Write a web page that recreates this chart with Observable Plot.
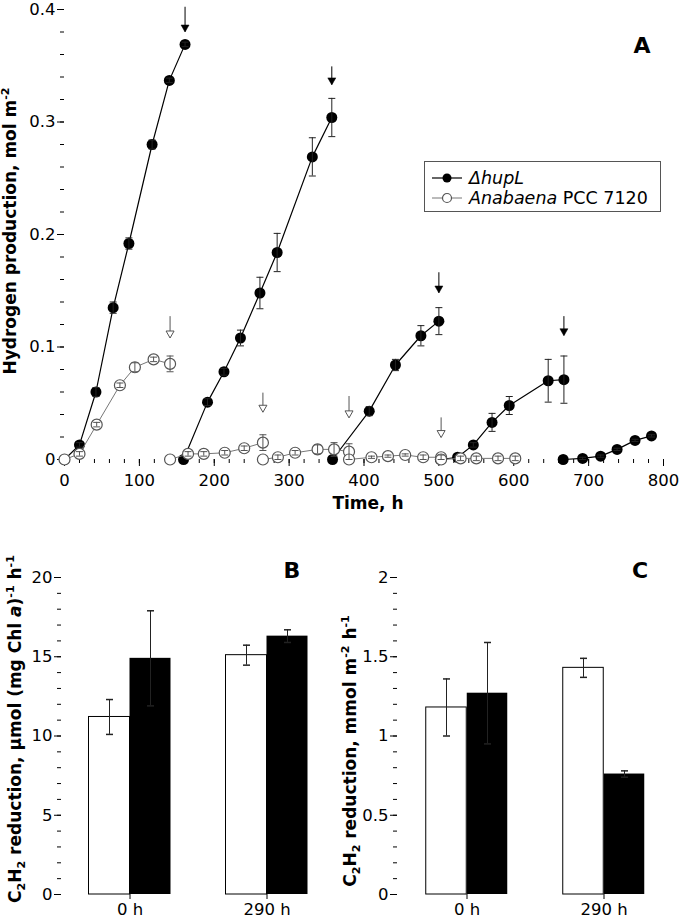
<!DOCTYPE html>
<html><head><meta charset="utf-8">
<script src="https://cdn.jsdelivr.net/npm/d3@7"></script>
<script src="https://cdn.jsdelivr.net/npm/@observablehq/plot@0.6"></script>
<style>
body{margin:0;background:#fff;}
#wrap{position:relative;width:680px;height:920px;font-family:"DejaVu Sans",sans-serif;color:#000;overflow:hidden;background:#fff}
.pl{position:absolute}
.lab{position:absolute;font-weight:bold;font-size:17px;white-space:nowrap;line-height:1}
.rot{transform:translate(-50%,-50%) rotate(-90deg)}
.lab sub,.lab sup{font-size:65%;line-height:0}
.letter{position:absolute;font-weight:bold;font-size:22px;line-height:1;transform:translateX(-50%)}
#legend{position:absolute;left:424px;top:161px;width:237px;height:51px;border:1px solid #555;box-sizing:border-box;font-size:17.5px}
#legend .row{position:absolute;left:7px;height:20px;display:flex;align-items:center;white-space:nowrap}
#legend svg{margin-right:7px}
</style></head>
<body><div id="wrap"></div>
<script>
// ---------- Panel A data: hydrogen production (mol m^-2) ----------
const hupTime  = [0,20,42,65,86,117,140,161, 159,191,213,235,261,284,331,357, 358,407,442,476,500, 502,525,546,571,594,646,667, 666,692,716,738,762,784];
const hupH2    = [0,0.013,0.060,0.135,0.192,0.280,0.337,0.369, 0,0.051,0.078,0.108,0.148,0.184,0.269,0.304, 0,0.043,0.084,0.110,0.123, 0,0.002,0.013,0.033,0.048,0.070,0.071, 0,0.001,0.003,0.009,0.017,0.021];
const hupErr   = [0,0.002,0.004,0.005,0.005,0.004,0.002,0.002, 0,0.003,0.003,0.007,0.014,0.017,0.017,0.017, 0,0.004,0.005,0.009,0.012, 0,0.001,0.002,0.008,0.008,0.019,0.021, 0,0.001,0.001,0.001,0.001,0.001];
const hupCycle = [1,1,1,1,1,1,1,1, 2,2,2,2,2,2,2,2, 3,3,3,3,3, 4,4,4,4,4,4,4, 5,5,5,5,5,5];

const wtTime  = [0,20,43,74,94,119,141, 141,165,186,214,240,265, 265,285,308,338,360,380, 380,410,432,455,479,503, 503,529,550,579,602];
const wtH2    = [0,0.005,0.031,0.066,0.082,0.089,0.085, 0,0.005,0.005,0.006,0.010,0.015, 0,0.002,0.006,0.009,0.009,0.007, 0,0.002,0.003,0.004,0.002,0.002, 0,0.001,0.001,0.001,0.001];
const wtErr   = [0,0.002,0.002,0.002,0.004,0.002,0.007, 0,0.002,0.002,0.002,0.002,0.007, 0,0.002,0.002,0.004,0.006,0.007, 0,0.001,0.001,0.001,0.002,0.002, 0,0.002,0.002,0.002,0.002];
const wtCycle = [1,1,1,1,1,1,1, 2,2,2,2,2,2, 3,3,3,3,3,3, 4,4,4,4,4,4, 5,5,5,5,5];

// medium-exchange arrows (tip and tail values, mol m^-2)
const hupArrowTime = [161,357,500,667];
const hupArrowTip  = [0.380,0.333,0.148,0.110];
const hupArrowTail = [0.402,0.349,0.166,0.127];
const wtArrowTime  = [141,265,380,503];
const wtArrowTip   = [0.108,0.042,0.037,0.0195];
const wtArrowTail  = [0.127,0.059,0.056,0.037];

const xTicksA = [0,100,200,300,400,500,600,700,800];
const yTicksA = [0,0.1,0.2,0.3,0.4];

// ---------- Panels B and C data ----------
const groups = ["0 h","290 h"];
const chlWT = [11.2, 15.1],  chlWTErr = [1.1, 0.63];
const chlHup = [14.9, 16.3], chlHupErr = [3.0, 0.4];
const areaWT = [1.18, 1.43], areaWTErr = [0.18, 0.06];
const areaHup = [1.27, 0.76], areaHupErr = [0.32, 0.02];
const yTicksB = [0,5,10,15,20];
const yTicksC = [0,0.5,1,1.5,2];

// ---------- helpers ----------
const fmt = d3.format("~g");
const capSymbol = {draw(ctx){ctx.moveTo(-3.5,0);ctx.lineTo(3.5,0);}};
const headSymbol = {draw(ctx){ctx.moveTo(0,0);ctx.lineTo(-4,-7);ctx.lineTo(4,-7);ctx.closePath();}};
const baseStyle = {fontFamily:"DejaVu Sans", fontSize:"16.5px", color:"#000", background:"transparent", overflow:"visible"};

const hup = hupTime.map((t,i)=>({t, h:hupH2[i], e:hupErr[i], c:hupCycle[i]}));
const wt = wtTime.map((t,i)=>({t, h:wtH2[i], e:wtErr[i], c:wtCycle[i]}));
const capsOf = arr => arr.filter(d=>d.e>0).flatMap(d=>[{t:d.t, y:d.h-d.e},{t:d.t, y:d.h+d.e}]);
const hupArrows = hupArrowTime.map((t,i)=>({t, tip:hupArrowTip[i], tail:hupArrowTail[i]}));
const wtArrows = wtArrowTime.map((t,i)=>({t, tip:wtArrowTip[i], tail:wtArrowTail[i]}));

const wrap = document.getElementById("wrap");
function place(node, left, top){ node.classList.add("pl"); node.style.left = left+"px"; node.style.top = top+"px"; wrap.appendChild(node); }

// ---------- Panel A ----------
const plotA = Plot.plot({
  width:680, height:500, marginLeft:64, marginRight:17, marginTop:9, marginBottom:41,
  style: baseStyle,
  x:{domain:[0,800]}, y:{domain:[0,0.4]},
  marks:[
    Plot.axisX({ticks:d3.range(0,801,20), tickSize:4, tickFormat:()=>"", label:null}),
    Plot.axisX({ticks:xTicksA, tickSize:7, tickPadding:8, tickFormat:fmt, label:null, line:true}),
    Plot.axisY({ticks:d3.range(0,21).map(k=>k*0.02), tickSize:4, tickFormat:()=>"", label:null}),
    Plot.axisY({ticks:yTicksA, tickSize:7, tickPadding:2, tickFormat:fmt, label:null, line:true}),
    // arrows
    Plot.ruleX(hupArrows, {x:"t", y1:"tip", y2:"tail", stroke:"#000", strokeWidth:1}),
    Plot.dot(hupArrows, {x:"t", y:"tip", symbol:headSymbol, fill:"#000", stroke:"#000", strokeWidth:0.5}),
    Plot.ruleX(wtArrows, {x:"t", y1:"tip", y2:"tail", stroke:"#555", strokeWidth:1}),
    Plot.dot(wtArrows, {x:"t", y:"tip", symbol:headSymbol, fill:"#fff", stroke:"#555", strokeWidth:1}),
    // ΔhupL
    Plot.line(hup, {x:"t", y:"h", z:"c", stroke:"#000", strokeWidth:1.2}),
    Plot.dot(hup, {x:"t", y:"h", r:5.5, fill:"#000"}),
    Plot.ruleX(hup.filter(d=>d.e>0), {x:"t", y1:d=>d.h-d.e, y2:d=>d.h+d.e, stroke:"#222", strokeWidth:1}),
    Plot.dot(capsOf(hup), {x:"t", y:"y", symbol:capSymbol, stroke:"#222", strokeWidth:1}),
    // Anabaena PCC 7120
    Plot.line(wt, {x:"t", y:"h", z:"c", stroke:"#777", strokeWidth:1}),
    Plot.dot(wt, {x:"t", y:"h", r:5.5, fill:"#fff", stroke:"#555", strokeWidth:1.2}),
    Plot.ruleX(wt.filter(d=>d.e>0), {x:"t", y1:d=>d.h-d.e, y2:d=>d.h+d.e, stroke:"#555", strokeWidth:1}),
    Plot.dot(capsOf(wt), {x:"t", y:"y", symbol:capSymbol, stroke:"#555", strokeWidth:1})
  ]
});
place(plotA, 0, 0);

// ---------- bar panels ----------
function barPanel(wtVals, wtE, hupVals, hupE, yTicks, minorStep, yMax, ml, mr){
  const W = 340, H = 420, mt = 77, mb = 26;
  const bw = (W - ml - mr) / groups.length, barW = 41;
  const wtD = groups.map((g,i)=>({g, v:wtVals[i], e:wtE[i]}));
  const hupD = groups.map((g,i)=>({g, v:hupVals[i], e:hupE[i]}));
  const caps = (arr) => arr.flatMap(d=>[{g:d.g, y:d.v-d.e},{g:d.g, y:d.v+d.e}]);
  const minor = d3.range(0, Math.round(yMax/minorStep)+1).map(k=>k*minorStep);
  return Plot.plot({
    width:W, height:H, marginLeft:ml, marginRight:mr, marginTop:mt, marginBottom:mb,
    style: baseStyle,
    x:{domain:groups, paddingInner:0, paddingOuter:0},
    y:{domain:[0,yMax]},
    marks:[
      Plot.axisY({ticks:minor, tickSize:4, tickFormat:()=>"", label:null}),
      Plot.axisY({ticks:yTicks, tickSize:7, tickPadding:2, tickFormat:fmt, label:null, line:true}),
      Plot.barY(wtD, {x:"g", y:"v", fill:"#fff", stroke:"#000", strokeWidth:1, insetLeft:bw/2-barW, insetRight:bw/2}),
      Plot.ruleX(wtD, {x:"g", y1:d=>d.v-d.e, y2:d=>d.v+d.e, dx:-barW/2, stroke:"#222"}),
      Plot.dot(caps(wtD), {x:"g", y:"y", dx:-barW/2, symbol:capSymbol, stroke:"#222"}),
      Plot.barY(hupD, {x:"g", y:"v", fill:"#000", insetLeft:bw/2, insetRight:bw/2-barW}),
      Plot.ruleX(hupD, {x:"g", y1:d=>d.v-d.e, y2:d=>d.v+d.e, dx:barW/2, stroke:"#222"}),
      Plot.dot(caps(hupD), {x:"g", y:"y", dx:barW/2, symbol:capSymbol, stroke:"#222"}),
      Plot.axisX({tickSize:5, tickPadding:4, label:null, line:true})
    ]
  });
}
place(barPanel(chlWT, chlWTErr, chlHup, chlHupErr, yTicksB, 1, 20, 61, 5), 0, 500);
place(barPanel(areaWT, areaWTErr, areaHup, areaHupErr, yTicksC, 0.1, 2, 57, 8), 340, 500);

// ---------- text: axis labels, panel letters, legend ----------
function addHTML(html){ const t = document.createElement("template"); t.innerHTML = html.trim(); const n = t.content.firstChild; wrap.appendChild(n); return n; }
addHTML('<div class="lab" style="left:368px;top:495px;transform:translateX(-50%)">Time, h</div>');
addHTML('<div class="lab rot" style="left:10px;top:231px">Hydrogen production, mol m<sup>-2</sup></div>');
addHTML('<div class="lab rot" style="left:15px;top:729px">C<sub>2</sub>H<sub>2</sub> reduction, µmol (mg Chl <i>a</i>)<sup>-1</sup> h<sup>-1</sup></div>');
addHTML('<div class="lab rot" style="left:350px;top:751px">C<sub>2</sub>H<sub>2</sub> reduction, mmol m<sup>-2</sup> h<sup>-1</sup></div>');
addHTML('<div class="letter" style="left:642px;top:35px">A</div>');
addHTML('<div class="letter" style="left:292px;top:560px">B</div>');
addHTML('<div class="letter" style="left:640px;top:560px">C</div>');
addHTML(`<div id="legend">
  <div class="row" style="top:6px"><svg width="30" height="12"><line x1="0" y1="6" x2="30" y2="6" stroke="#000" stroke-width="1.2"/><circle cx="15" cy="6" r="4.5" fill="#000"/></svg><span><i>ΔhupL</i></span></div>
  <div class="row" style="top:26px"><svg width="30" height="12"><line x1="0" y1="6" x2="30" y2="6" stroke="#777" stroke-width="1"/><circle cx="15" cy="6" r="4.5" fill="#fff" stroke="#555" stroke-width="1.2"/></svg><span><i>Anabaena</i> PCC 7120</span></div>
</div>`);
</script>
</body></html>
